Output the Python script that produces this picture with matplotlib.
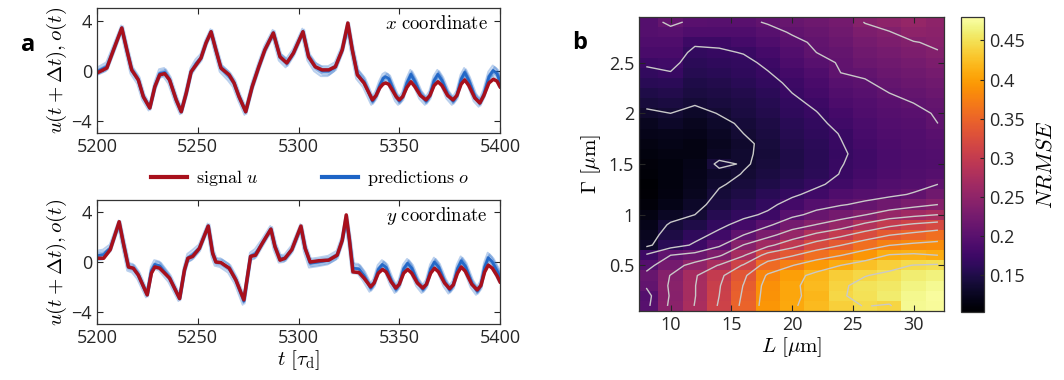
import numpy as np
import matplotlib.pyplot as plt

plt.rcParams['font.family'] = ['Open Sans', 'DejaVu Sans']
plt.rcParams['mathtext.fontset'] = 'cm'
plt.rcParams['axes.edgecolor'] = '#333333'
plt.rcParams['xtick.color'] = '#262626'
plt.rcParams['ytick.color'] = '#262626'

# ---- panel a: time series (x coordinate) ----
tx = [5200, 5204.9, 5208.2, 5212.3, 5214.8, 5217.2, 5220.5, 5223, 5226.2, 5228.7,
      5231.1, 5233.6, 5236, 5239.3, 5241.8, 5244.3, 5246.7, 5249.2, 5251.6, 5254.1,
      5256.6, 5259, 5261.5, 5265.6, 5268, 5270.5, 5273.8, 5277, 5280.3, 5283.3,
      5287.5, 5290.8, 5294.2, 5297.5, 5302.2, 5305, 5308.3, 5311.7, 5315, 5318.3,
      5321.7, 5324.5, 5326.7, 5329.2, 5332.5,
      5336.7, 5338.5, 5340.3, 5342, 5343.3, 5344.8, 5346.7, 5348.5, 5350, 5351.7,
      5353.8, 5355.8, 5357.8, 5360.5, 5363.3, 5365.2, 5367.3, 5369.2, 5371.2, 5374,
      5376.7, 5378.6, 5380.7, 5382.5, 5384.5, 5387.5, 5390, 5392, 5394.5, 5396.7,
      5398.5, 5400]
ux = [-0.2, 0.2, 1.65, 3.4, 1.65, 0.05, -0.75, -2.1, -3.0, -1.3,
      -0.35, -0.25, -0.75, -2.35, -3.3, -1.8, -0.1, 0.45, 1.0, 2.2,
      3.1, 1.65, 0.2, -0.35, -1.0, -2.1, -3.3, -1.3, 0.3, 1.65,
      3.0, 1.1, 0.6, 1.4, 3.1, 1.1, 0.3, 0.05, 0.05, 0.3,
      1.65, 3.8, 1.65, -0.35, -1.0,
      -2.35, -2.0, -1.4, -1.08, -1.0, -1.1, -1.6, -2.1, -2.35, -2.1,
      -1.35, -0.9, -1.3, -2.0, -2.35, -2.0, -1.2, -0.9, -1.2, -2.0,
      -2.35, -2.0, -1.1, -0.75, -1.2, -2.2, -2.6, -2.0, -1.0, -0.7,
      -0.85, -1.3]
bias_x = [0.1, 0.1, 0, 0, 0, 0, 0, 0, 0, 0,
          0.1, 0.1, 0, 0, 0, 0, 0, 0.1, 0, 0,
          0, 0, 0, -0.1, 0, 0, 0, 0, 0, 0,
          0, 0, 0, 0, 0, 0, 0, -0.1, -0.1, 0,
          0, -0.2, 0, 0.1, 0.1,
          -0.1, 0.0, 0.2, 0.45, 0.5, 0.45, 0.2, 0.0, -0.1, 0.0,
          0.35, 0.6, 0.4, 0.1, -0.1, 0.0, 0.4, 0.6, 0.4, 0.1,
          -0.1, 0.0, 0.4, 0.6, 0.4, 0.1, 0.0, 0.1, 0.5, 0.7,
          0.6, 0.4]
spread_x = [0.3, 0.35, 0.3, 0.2, 0.25, 0.3, 0.3, 0.25, 0.2, 0.3,
            0.35, 0.35, 0.3, 0.25, 0.2, 0.3, 0.3, 0.35, 0.3, 0.25,
            0.2, 0.25, 0.3, 0.35, 0.3, 0.25, 0.25, 0.3, 0.3, 0.3,
            0.25, 0.3, 0.35, 0.3, 0.25, 0.3, 0.35, 0.4, 0.4, 0.35,
            0.3, 0.3, 0.3, 0.4, 0.4,
            0.3, 0.35, 0.35, 0.35, 0.35, 0.35, 0.35, 0.35, 0.3, 0.35,
            0.35, 0.35, 0.35, 0.35, 0.3, 0.35, 0.35, 0.35, 0.35, 0.35,
            0.3, 0.35, 0.35, 0.35, 0.35, 0.35, 0.3, 0.35, 0.4, 0.4,
            0.4, 0.4]

# ---- panel a: time series (y coordinate) ----
ty = [5200, 5203.3, 5206.6, 5211, 5213.1, 5215.6, 5218, 5220.5, 5224.9, 5227,
      5228.7, 5231.1, 5236, 5241, 5243.4, 5245.1, 5247.5, 5250.8, 5255.2, 5257.4,
      5259, 5261.5, 5265.6, 5268.9, 5272.9, 5276.2, 5278.7, 5282, 5286.3, 5288.3,
      5290.8, 5293.3, 5296.7, 5301.2, 5303.3, 5305.8, 5310, 5315, 5319.2, 5321.7,
      5323.7, 5325.3, 5327, 5330, 5332.5,
      5335.8, 5337.5, 5339.6, 5341.7, 5343.5, 5346, 5348.3, 5350, 5352.2, 5354.2,
      5356.2, 5359, 5361.7, 5363.5, 5365.6, 5367.5, 5369.5, 5372.5, 5375, 5376.8,
      5378.9, 5380.8, 5382.8, 5386, 5388.7, 5390.5, 5392.4, 5394.2, 5396.2, 5398.5,
      5400]
uy = [0.3, 0.3, 1.0, 3.25, 1.5, -0.4, -0.5, -1.05, -2.65, -0.9,
      -0.4, -0.5, -1.3, -2.95, -0.65, 0.3, 0.45, 1.1, 2.9, 0.7,
      0.0, -0.05, -0.5, -1.45, -3.05, 0.45, 0.55, 1.5, 2.65, 1.25,
      0.15, 0.3, 1.0, 2.9, 1.1, 0.0, 0.1, 0.15, 0.55, 1.75,
      3.8, 1.75, -0.8, -0.85, -1.3,
      -2.0, -1.7, -0.9, -0.6, -0.8, -1.6, -2.1, -1.8, -0.9, -0.6,
      -0.9, -1.7, -2.1, -1.8, -0.9, -0.5, -0.8, -1.7, -2.15, -1.85,
      -0.9, -0.4, -0.75, -1.8, -2.25, -1.9, -0.8, -0.25, -0.5, -1.1,
      -1.6]
bias_y = [0.2, 0.3, 0.1, -0.1, 0, 0, 0, 0, 0, 0.2,
          0.2, 0.2, 0, 0, 0, 0, 0.1, 0, 0, 0,
          0, 0, 0, 0, -0.1, 0, 0.1, 0, 0, 0,
          0.1, 0, 0, -0.1, 0, -0.1, -0.1, 0, 0, 0,
          -0.3, 0, 0.3, 0.3, 0.2,
          -0.1, 0.0, 0.3, 0.4, 0.35, 0.1, -0.1, 0.0, 0.35, 0.5,
          0.4, 0.1, -0.1, 0.0, 0.35, 0.5, 0.4, 0.1, -0.1, 0.0,
          0.35, 0.5, 0.4, 0.1, -0.1, 0.0, 0.4, 0.6, 0.5, 0.4,
          0.4]
spread_y = [0.4, 0.4, 0.3, 0.2, 0.3, 0.3, 0.35, 0.3, 0.2, 0.3,
            0.35, 0.35, 0.3, 0.2, 0.3, 0.35, 0.4, 0.3, 0.2, 0.3,
            0.3, 0.35, 0.35, 0.3, 0.3, 0.3, 0.4, 0.3, 0.25, 0.3,
            0.3, 0.3, 0.3, 0.25, 0.3, 0.35, 0.35, 0.35, 0.35, 0.3,
            0.3, 0.3, 0.4, 0.4, 0.4,
            0.3, 0.35, 0.35, 0.35, 0.35, 0.35, 0.3, 0.35, 0.35, 0.35,
            0.35, 0.35, 0.3, 0.35, 0.35, 0.35, 0.35, 0.35, 0.3, 0.35,
            0.35, 0.35, 0.35, 0.35, 0.3, 0.35, 0.35, 0.4, 0.4, 0.4,
            0.4]

# ensemble members of the predictions: weight on spread, small time shift
member_w = [-1.0, -0.7, -0.4, -0.15, 0.15, 0.4, 0.7, 1.0]
member_dt = [-0.6, 0.3, -0.2, 0.5, -0.4, 0.2, 0.6, -0.3]

# ---- panel b: NRMSE map ----
L_vals = [8, 10, 12, 14, 16, 18, 20, 22, 24, 26, 28, 30, 32]
G_vals = [2.9, 2.8, 2.7, 2.6, 2.5, 2.4, 2.3, 2.2, 2.1, 2.0, 1.9, 1.8, 1.7, 1.6, 1.5,
          1.4, 1.3, 1.2, 1.1, 1.0, 0.9, 0.8, 0.7, 0.6, 0.5, 0.4, 0.3, 0.2, 0.1]
nrmse = [
    [0.195, 0.21, 0.2, 0.198, 0.2, 0.207, 0.212, 0.218, 0.225, 0.24, 0.248, 0.255, 0.248],
    [0.195, 0.198, 0.19, 0.19, 0.19, 0.198, 0.207, 0.213, 0.22, 0.232, 0.238, 0.248, 0.245],
    [0.19, 0.19, 0.175, 0.175, 0.182, 0.19, 0.2, 0.208, 0.215, 0.226, 0.232, 0.238, 0.242],
    [0.185, 0.185, 0.165, 0.168, 0.172, 0.182, 0.193, 0.205, 0.21, 0.22, 0.226, 0.232, 0.238],
    [0.175, 0.178, 0.16, 0.162, 0.166, 0.175, 0.187, 0.198, 0.207, 0.215, 0.22, 0.226, 0.232],
    [0.165, 0.17, 0.155, 0.158, 0.162, 0.17, 0.18, 0.19, 0.205, 0.208, 0.215, 0.22, 0.226],
    [0.158, 0.16, 0.15, 0.153, 0.158, 0.165, 0.175, 0.185, 0.198, 0.203, 0.21, 0.215, 0.22],
    [0.15, 0.152, 0.145, 0.148, 0.153, 0.16, 0.171, 0.18, 0.192, 0.198, 0.205, 0.21, 0.215],
    [0.142, 0.145, 0.139, 0.143, 0.148, 0.156, 0.166, 0.175, 0.187, 0.193, 0.2, 0.205, 0.21],
    [0.133, 0.137, 0.13, 0.138, 0.145, 0.152, 0.162, 0.17, 0.182, 0.19, 0.196, 0.2, 0.207],
    [0.125, 0.13, 0.125, 0.132, 0.14, 0.148, 0.158, 0.166, 0.177, 0.186, 0.193, 0.197, 0.205],
    [0.12, 0.122, 0.12, 0.128, 0.137, 0.145, 0.155, 0.163, 0.172, 0.183, 0.19, 0.194, 0.2],
    [0.115, 0.118, 0.115, 0.125, 0.133, 0.142, 0.152, 0.16, 0.17, 0.18, 0.188, 0.192, 0.196],
    [0.112, 0.115, 0.115, 0.128, 0.135, 0.14, 0.15, 0.158, 0.168, 0.178, 0.186, 0.19, 0.193],
    [0.11, 0.113, 0.118, 0.142, 0.135, 0.142, 0.15, 0.158, 0.17, 0.178, 0.186, 0.19, 0.192],
    [0.108, 0.112, 0.12, 0.13, 0.138, 0.145, 0.152, 0.16, 0.172, 0.18, 0.188, 0.192, 0.196],
    [0.104, 0.112, 0.122, 0.135, 0.142, 0.15, 0.158, 0.167, 0.178, 0.186, 0.193, 0.197, 0.205],
    [0.105, 0.114, 0.125, 0.14, 0.148, 0.158, 0.167, 0.178, 0.19, 0.196, 0.2, 0.207, 0.22],
    [0.11, 0.118, 0.13, 0.145, 0.155, 0.165, 0.18, 0.195, 0.203, 0.21, 0.22, 0.23, 0.239],
    [0.115, 0.128, 0.137, 0.155, 0.165, 0.175, 0.198, 0.213, 0.225, 0.238, 0.255, 0.265, 0.273],
    [0.12, 0.14, 0.15, 0.165, 0.18, 0.2, 0.225, 0.24, 0.255, 0.28, 0.3, 0.312, 0.32],
    [0.125, 0.148, 0.162, 0.178, 0.205, 0.23, 0.255, 0.28, 0.3, 0.322, 0.34, 0.35, 0.36],
    [0.13, 0.158, 0.175, 0.2, 0.24, 0.265, 0.295, 0.322, 0.34, 0.36, 0.375, 0.382, 0.385],
    [0.175, 0.205, 0.215, 0.235, 0.27, 0.32, 0.338, 0.36, 0.375, 0.392, 0.412, 0.415, 0.41],
    [0.195, 0.225, 0.25, 0.275, 0.31, 0.355, 0.375, 0.395, 0.41, 0.425, 0.436, 0.445, 0.448],
    [0.212, 0.24, 0.27, 0.3, 0.335, 0.38, 0.4, 0.418, 0.435, 0.443, 0.45, 0.46, 0.465],
    [0.208, 0.243, 0.272, 0.305, 0.342, 0.388, 0.405, 0.42, 0.44, 0.452, 0.456, 0.466, 0.472],
    [0.195, 0.242, 0.272, 0.307, 0.345, 0.39, 0.405, 0.418, 0.442, 0.45, 0.458, 0.47, 0.477],
    [0.198, 0.245, 0.274, 0.31, 0.348, 0.392, 0.407, 0.42, 0.437, 0.445, 0.441, 0.472, 0.475],
]
contour_levels = [0.137, 0.171, 0.205, 0.239, 0.273, 0.307, 0.341, 0.376, 0.41, 0.444]
cbar_ticks = [0.15, 0.2, 0.25, 0.3, 0.35, 0.4, 0.45]
cbar_labels = ['0.15', '0.2', '0.25', '0.3', '0.35', '0.4', '0.45']

RED = '#a8101c'
BLUE = '#1d64c6'

fig = plt.figure(figsize=(10.64, 3.8), dpi=100)
W, H = 1064, 380


def box(x0, y0, x1, y1):
    return [x0 / W, 1 - y1 / H, (x1 - x0) / W, (y1 - y0) / H]


def style(ax):
    ax.tick_params(direction='in', top=True, right=True, labelsize=13, length=4, width=0.8)
    for s in ax.spines.values():
        s.set_linewidth(0.9)


def series_panel(ax, t, u, bias, spread, label):
    t = np.array(t)
    u = np.array(u)
    base = u + np.array(bias)
    sp = np.array(spread)
    for w, dt in zip(member_w, member_dt):
        ax.plot(t + dt, base + w * sp, color=BLUE, alpha=0.3, lw=1.4)
    ax.plot(t, base, color=BLUE, lw=2.0, alpha=0.9)
    ax.plot(t, u, color=RED, lw=2.5)
    ax.set_xlim(5200, 5400)
    ax.set_ylim(-5, 5)
    ax.set_xticks([5200, 5250, 5300, 5350, 5400])
    ax.set_yticks([-4, 0, 4])
    ax.set_ylabel(r'$u(t+\Delta t), o(t)$', fontsize=15, labelpad=2)
    ax.text(0.97, 0.87, label, transform=ax.transAxes, ha='right', va='center', fontsize=13.5)
    style(ax)


ax1 = fig.add_axes(box(97, 8, 500, 133))
series_panel(ax1, tx, ux, bias_x, spread_x, r'$x\ \mathrm{coordinate}$')
ax2 = fig.add_axes(box(97, 200, 500, 324))
series_panel(ax2, ty, uy, bias_y, spread_y, r'$y\ \mathrm{coordinate}$')
ax2.set_xlabel(r'$t\ [\tau_\mathrm{d}]$', fontsize=15, labelpad=1)

h1, = ax1.plot([], [], color=RED, lw=3, label=r'$\mathrm{signal}\ u$')
h2, = ax1.plot([], [], color=BLUE, lw=3, label=r'$\mathrm{predictions}\ o$')
fig.legend(handles=[h1, h2], loc='center', bbox_to_anchor=(310 / W, 1 - 178 / H), ncol=2,
           frameon=False, fontsize=13, columnspacing=3.5, handlelength=2.0, handletextpad=0.5)

axh = fig.add_axes(box(639, 17, 944, 311))
Z = np.array(nrmse)
mesh = axh.pcolormesh(L_vals, G_vals, Z, cmap='inferno', vmin=0.103, vmax=0.48, shading='nearest')
axh.contour(L_vals, G_vals, Z, levels=contour_levels, colors='#c9c9c9', linewidths=1.0)
axh.set_xlim(7.4, 32.5)
axh.set_ylim(0.05, 2.95)
axh.set_xticks([10, 15, 20, 25, 30])
axh.set_yticks([0.5, 1, 1.5, 2, 2.5])
axh.set_yticklabels(['0.5', '1', '1.5', '2', '2.5'])
axh.set_xlabel(r'$L\ [\mu\mathrm{m}]$', fontsize=15, labelpad=1)
axh.set_ylabel(r'$\Gamma\ [\mu\mathrm{m}]$', fontsize=15, labelpad=4)
style(axh)

cax = fig.add_axes(box(961, 17, 984, 312))
cb = fig.colorbar(mesh, cax=cax, ticks=cbar_ticks)
cb.ax.set_yticklabels(cbar_labels)
cb.ax.tick_params(direction='in', labelsize=13, length=3, width=0.8)
cb.outline.set_linewidth(0.9)
cb.set_label(r'$NRMSE$', fontsize=16, labelpad=8)

fig.text(28 / W, 1 - 45 / H, 'a', fontsize=17, fontweight='bold', ha='center', va='center')
fig.text(580 / W, 1 - 43 / H, 'b', fontsize=17, fontweight='bold', ha='center', va='center')

fig.savefig('out.png', dpi=100)
